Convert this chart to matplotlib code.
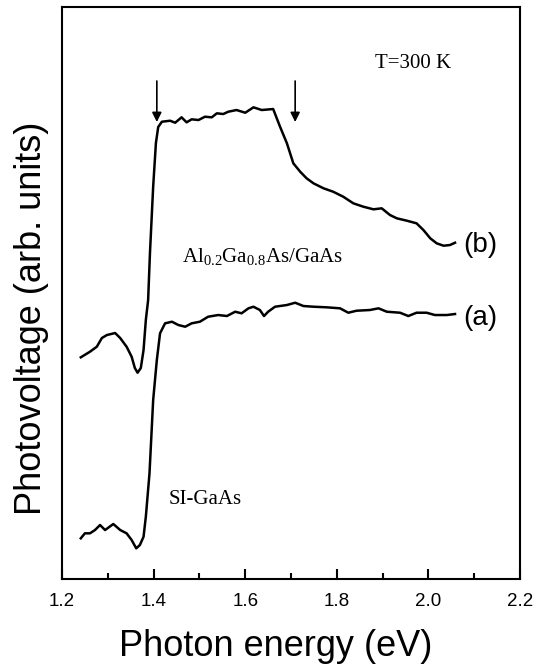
import numpy as np
import matplotlib.pyplot as plt
from matplotlib.ticker import MultipleLocator

# Curva (b): Al0.2Ga0.8As/GaAs
energia_b = [1.241, 1.261, 1.276, 1.287, 1.298, 1.316, 1.327, 1.341, 1.352, 1.359,
             1.365, 1.372, 1.378, 1.383, 1.388, 1.392, 1.399, 1.405, 1.410, 1.418,
             1.436, 1.447, 1.461, 1.472, 1.483, 1.498, 1.512, 1.527, 1.538, 1.552,
             1.563, 1.581, 1.600, 1.618, 1.636, 1.661, 1.676, 1.691, 1.705, 1.720,
             1.734, 1.749, 1.771, 1.792, 1.814, 1.836, 1.858, 1.880, 1.898, 1.916,
             1.931, 1.953, 1.974, 1.989, 2.004, 2.018, 2.033, 2.047, 2.058]
sinal_b = [221.7, 227.3, 232.3, 241.0, 244.0, 246.0, 241.0, 232.3, 222.3, 211.0,
           206.3, 211.0, 229.0, 259.0, 279.0, 326.0, 392.3, 436.0, 452.0, 457.3,
           458.3, 456.3, 461.7, 456.7, 459.7, 459.0, 462.3, 461.7, 465.7, 465.0,
           467.3, 469.0, 466.3, 471.7, 469.0, 470.0, 452.3, 435.7, 415.7, 407.3,
           400.7, 395.7, 390.7, 387.3, 382.3, 375.7, 372.3, 369.7, 370.7, 364.0,
           360.7, 358.3, 355.7, 349.0, 340.7, 335.7, 333.3, 334.0, 336.3]

# Curva (a): SI-GaAs
energia_a = [1.241, 1.250, 1.261, 1.272, 1.283, 1.294, 1.312, 1.327, 1.341, 1.352,
             1.362, 1.370, 1.378, 1.383, 1.391, 1.399, 1.407, 1.414, 1.425, 1.440,
             1.454, 1.469, 1.483, 1.501, 1.519, 1.541, 1.560, 1.578, 1.592, 1.607,
             1.618, 1.632, 1.641, 1.650, 1.665, 1.691, 1.709, 1.727, 1.749, 1.778,
             1.807, 1.825, 1.843, 1.872, 1.891, 1.909, 1.938, 1.956, 1.974, 1.996,
             2.014, 2.040, 2.058]
sinal_a = [40.7, 45.7, 45.7, 49.0, 54.0, 49.0, 55.0, 49.0, 45.7, 39.0,
           30.7, 34.0, 42.3, 62.3, 105.7, 179.0, 219.0, 245.7, 255.7, 257.3,
           254.0, 252.3, 255.7, 257.3, 262.3, 264.0, 263.0, 267.3, 265.7, 270.7,
           272.3, 269.0, 263.0, 267.3, 272.3, 274.0, 276.3, 273.0, 272.3, 271.7,
           270.7, 266.3, 268.3, 269.0, 270.7, 267.3, 266.3, 263.0, 266.3, 266.3,
           264.0, 264.0, 265.0]

# Setas indicando os gaps
setas_x = [1.407, 1.709]

plt.rcParams['mathtext.fontset'] = 'custom'
plt.rcParams['mathtext.rm'] = 'Liberation Serif'
plt.rcParams['mathtext.it'] = 'Liberation Serif:italic'

fig = plt.figure(figsize=(5.44, 6.69), dpi=100)
ax = fig.add_axes([0.114, 0.1345, 0.842, 0.855])

ax.plot(energia_b, sinal_b, color='black', lw=1.8)
ax.plot(energia_a, sinal_a, color='black', lw=1.8)

for xs in setas_x:
    ax.annotate('', xy=(xs, 457), xytext=(xs, 498),
                arrowprops=dict(arrowstyle='-|>', color='black', lw=1.2,
                                mutation_scale=14, shrinkA=0, shrinkB=0))

serif = 'Liberation Serif'
sans = 'Liberation Sans'
ax.text(1.883, 516, 'T=300 K', family=serif, fontsize=15, va='center')
ax.text(1.461, 323, r'Al$_{\mathrm{0.2}}$Ga$_{\mathrm{0.8}}$As/GaAs', family=serif,
        fontsize=15, va='center')
ax.text(1.432, 80, 'SI-GaAs', family=serif, fontsize=15, va='center')
ax.text(2.075, 334, '(b)', family=sans, fontsize=20, va='center')
ax.text(2.075, 261, '(a)', family=sans, fontsize=20, va='center')

ax.set_xlim(1.2, 2.2)
ax.set_ylim(0, 572)
ax.xaxis.set_major_locator(MultipleLocator(0.2))
ax.xaxis.set_minor_locator(MultipleLocator(0.1))
ax.xaxis.set_major_formatter(plt.FormatStrFormatter('%.1f'))
ax.tick_params(axis='x', which='major', direction='in', length=7, width=1.5,
               pad=10, labelsize=13.5)
ax.tick_params(axis='x', which='minor', direction='in', length=4, width=1.5)
ax.set_yticks([])
for lbl in ax.get_xticklabels():
    lbl.set_family(sans)
for s in ax.spines.values():
    s.set_linewidth(1.5)

ax.set_xlabel('Photon energy (eV)', family=sans, fontsize=26)
ax.xaxis.set_label_coords(0.467, -0.087)
ax.set_ylabel('Photovoltage (arb. units)', family=sans, fontsize=26)
ax.yaxis.set_label_coords(-0.028, 0.456)

fig.savefig('out.png', dpi=100)
